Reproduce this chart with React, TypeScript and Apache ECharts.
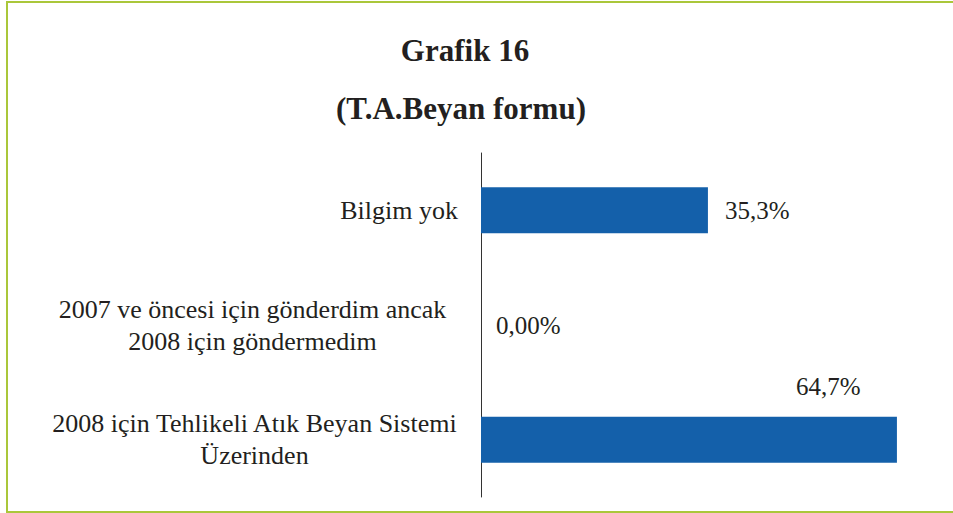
import React, { useEffect, useRef } from "react";
import * as echarts from "echarts";

const categories: string[] = [
  "Bilgim yok",
  "2007 ve öncesi için gönderdim ancak\n2008 için göndermedim",
  "2008 için Tehlikeli Atık Beyan Sistemi\nÜzerinden",
];
const values: number[] = [35.3, 0, 64.7];
const valueLabels: string[] = ["35,3%", "0,00%", "64,7%"];
const titleLines: string[] = ["Grafik 16", "(T.A.Beyan formu)"];

const SERIF = "Liberation Serif";
const TEXT = "#231f20";

export default function App() {
  const ref = useRef<HTMLDivElement>(null);
  useEffect(() => {
    if (!ref.current) return;
    const chart = echarts.init(ref.current, null, { renderer: "svg" });
    const labelPositions: any[] = [
      { position: "right", distance: 17 },
      { position: "right", distance: 15 },
      { position: ["83.5%", -30], align: "center", verticalAlign: "middle" },
    ];
    chart.setOption({
      animation: false,
      backgroundColor: "#ffffff",
      textStyle: { fontFamily: SERIF },
      title: [
        {
          text: titleLines[0],
          left: 460,
          top: 30,
          textAlign: "center",
          textStyle: { fontFamily: SERIF, fontWeight: "bold", fontSize: 31, color: TEXT },
        },
        {
          text: titleLines[1],
          left: 456,
          top: 88,
          textAlign: "center",
          textStyle: { fontFamily: SERIF, fontWeight: "bold", fontSize: 31, color: TEXT },
        },
      ],
      graphic: [
        {
          type: "rect",
          shape: { x: 7, y: 2, width: 960, height: 510 },
          style: { fill: "none", stroke: "#aac73a", lineWidth: 2 },
          silent: true,
        },
      ],
      grid: { left: 481, top: 153, bottom: 16, right: 22, containLabel: false },
      xAxis: {
        type: "value",
        min: 0,
        max: 70,
        show: false,
      },
      yAxis: {
        type: "category",
        data: categories,
        inverse: true,
        axisLine: { show: true, lineStyle: { color: "#333333", width: 1 } },
        axisTick: { show: false },
        splitLine: { show: false },
        axisLabel: {
          margin: 23,
          fontFamily: SERIF,
          fontSize: 26,
          color: TEXT,
          lineHeight: 32,
          formatter: (v: string) => {
            const idx = categories.indexOf(v);
            if (v.indexOf("\n") < 0) return v;
            return v
              .split("\n")
              .map((l) => `{c${idx}|${l}}`)
              .join("\n");
          },
          rich: {
            c1: { width: 411, align: "center", fontFamily: SERIF, fontSize: 26, color: TEXT, lineHeight: 32 },
            c2: { width: 407, align: "center", fontFamily: SERIF, fontSize: 26, color: TEXT, lineHeight: 32 },
          },
        },
      },
      series: [
        {
          type: "bar",
          barWidth: 46,
          itemStyle: { color: "#1460aa" },
          data: values.map((v, i) => ({
            value: v,
            label: {
              show: true,
              formatter: valueLabels[i],
              fontFamily: SERIF,
              fontSize: 25,
              color: TEXT,
              ...labelPositions[i],
            },
          })),
        },
      ],
    });
    return () => chart.dispose();
  }, []);
  return (
    <div
      ref={ref}
      style={{ position: "fixed", left: 0, top: 0, width: 953, height: 513 }}
    />
  );
}
